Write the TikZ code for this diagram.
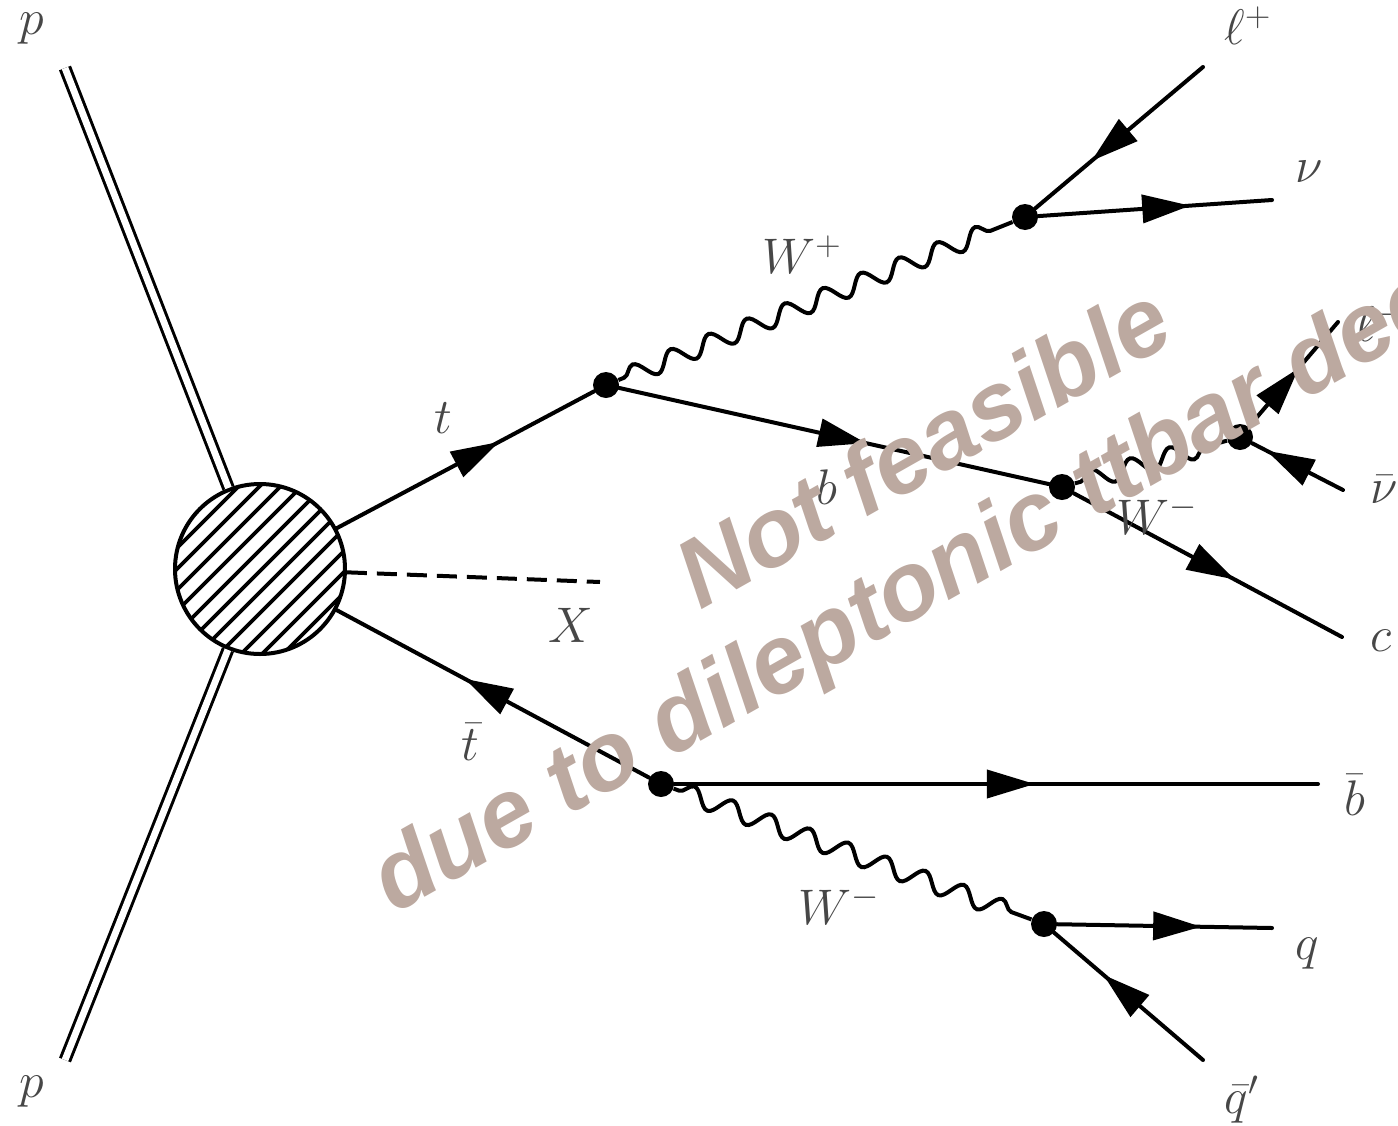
\documentclass[tikz,border=0pt]{standalone}
\usepackage{fix-cm}
\usepackage{fontspec}
\newfontfamily\stampfont{Liberation Sans}[Scale=1]
\usetikzlibrary{arrows.meta,decorations.markings,decorations.pathmorphing}
\definecolor{stampcolor}{HTML}{BCA9A0}
\tikzset{
    line/.style={line width=2pt, line cap=round, draw=black},
    fermion/.style={line, postaction={decorate, decoration={markings,
        mark=at position #1 with {\arrow{Triangle[length=24pt, width=14pt]}}}}},
    boson/.style={line width=2pt, draw=black, decorate,
        decoration={snake, amplitude=4.6pt, segment length=20.5pt, pre length=3pt, post length=3pt}},
    beam/.style={draw=black, double=white, double distance=3.4pt, line width=1.5pt},
    scalar/.style={line, dash pattern=on 10pt off 5pt, line cap=butt},
    vertex/.style={circle, fill=black, inner sep=0pt, minimum size=13pt},
    blobnode/.style={circle, draw=black, line width=2pt, fill=white, minimum size=85pt, inner sep=0pt,
        path picture={
            \foreach \h in {-104,-83,-62,-41,-19,2,23,44,66,87,108}
                \draw[line width=1.8pt]
                    ([shift={(\h-110,110)}]path picture bounding box.center) --
                    ([shift={(\h+110,-110)}]path picture bounding box.center);
        }},
    note/.style={font=\fontsize{25}{30}\selectfont, text=black!72, inner sep=0pt},
    stamp/.style={font=\stampfont\bfseries\itshape\fontsize{48.5}{58}\selectfont,
        text=stampcolor, inner sep=0pt, rotate=29.5, anchor=base west},
}

\begin{document}
\begin{tikzpicture}[x=0.5pt,y=-0.5pt]

    \clip (0,0) rectangle (1398,1125);

    \node[blobnode] (blob) at (260,569) {};
    \node[vertex] (top) at (606,385) {};
    \node[vertex] (wplus) at (1025,217) {};
    \node[vertex] (bdecay) at (1062,487) {};
    \node[vertex] (wminus) at (1240,437) {};
    \node[vertex] (antitop) at (661,784) {};
    \node[vertex] (wlow) at (1044,924) {};

    \coordinate (beamup) at (65,68);
    \coordinate (beamdown) at (65,1060);
    \coordinate (lepplus) at (1203,67);
    \coordinate (nu) at (1272,200);
    \coordinate (lepminus) at (1338,322);
    \coordinate (antinu) at (1343,490);
    \coordinate (charm) at (1342,637);
    \coordinate (xend) at (600,582);
    \coordinate (bbarend) at (1318,784);
    \coordinate (quark) at (1272,928);
    \coordinate (antiquark) at (1203,1060);

    % beams
    \draw[beam] (beamup) -- (blob);
    \draw[beam] (beamdown) -- (blob);

    % top side
    \draw[fermion=0.63] (blob) -- (top);
    \draw[boson] (top) -- (wplus);
    \draw[fermion=0.575] (top) -- (bdecay);
    \draw[fermion=0.665] (lepplus) -- (wplus);
    \draw[fermion=0.65] (wplus) -- (nu);
    \draw[boson] (bdecay) -- (wminus);
    \draw[fermion=0.56] (wminus) -- (lepminus);
    \draw[fermion=0.84] (antinu) -- (wminus);
    \draw[fermion=0.6] (bdecay) -- (charm);

    % X and antitop side
    \draw[scalar] (blob) -- (xend);
    \draw[fermion=0.59] (antitop) -- (blob);
    \draw[fermion=0.56] (antitop) -- (bbarend);
    \draw[boson] (antitop) -- (wlow);
    \draw[fermion=0.67] (wlow) -- (quark);
    \draw[fermion=0.67] (antiquark) -- (wlow);

    \node[note] (plabelup) at (32,29) {$p$};
    \node[note] (plabeldown) at (32,1092) {$p$};
    \node[note] (llabel) at (1248,26) {$\ell^+$};
    \node[note] (nulabel) at (1309,172) {$\nu$};
    \node[note] (wplabel) at (802,255) {$W^+$};
    \node[note] (tlabel) at (443,418) {$t$};
    \node[note] (blabel) at (827,487) {$b$};
    \node[note] (xlabel) at (571,625) {$X$};
    \node[note] (tbarlabel) at (470,742) {$\bar{t}$};
    \node[note] (wlowlabel) at (839,905) {$W^-$};
    \node[note] (wmlabel) at (1157,515) {$W^-$};
    \node[note] (bbarlabel) at (1355,795) {$\bar{b}$};
    \node[note] (qlabel) at (1307,954) {$q$};
    \node[note] (qplabel) at (1242,1100) {$\bar{q}'$};
    \node[note] (clabel) at (1381,641) {$c$};
    \node[note] (nubarlabel) at (1384,490) {$\bar{\nu}$};
    \node[note] (lmlabel) at (1380,322) {$\ell^-$};

    \node[stamp] (stampone) at (700,611) {Not feasible};
    \node[stamp] (stamptwo) at (394,915) {due to dileptonic ttbar decay};

\end{tikzpicture}
\end{document}
